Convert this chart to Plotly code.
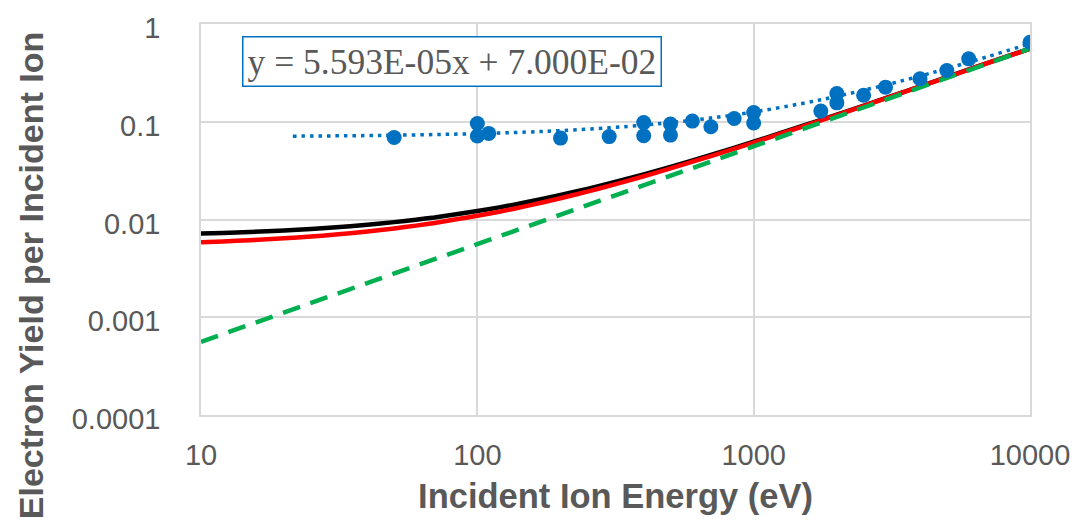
import plotly.graph_objects as go

# Measured electron yield (scatter points)
energy_meas = [50, 100, 100, 110, 200, 300, 400, 400, 500, 500, 600, 700, 850,
               1000, 1000, 1750, 2000, 2000, 2500, 3000, 4000, 5000, 6000, 10000]
yield_meas = [0.069, 0.096, 0.0715, 0.076, 0.068, 0.0705, 0.098, 0.072, 0.095, 0.073,
              0.1016, 0.089, 0.108, 0.124, 0.097, 0.1285, 0.194, 0.156, 0.187,
              0.226, 0.275, 0.335, 0.44, 0.65]

# Linear trendline coefficients shown in the equation box
trend_slope = 5.593e-05
trend_icpt = 7.000e-02
trend_x = [21.5, 30, 40, 50, 70, 100, 150, 200, 300, 400, 500, 700, 1000,
           1500, 2000, 3000, 4000, 5000, 7000, 10000]
trend_y = [trend_slope * e + trend_icpt for e in trend_x]

# Model curves
curve_x = [10, 12, 15, 20, 25, 30, 40, 50, 60, 70, 85, 100, 120, 150, 200, 250,
           300, 400, 500, 700, 1000, 1500, 2000, 3000, 5000, 7000, 10000]
black_y = [0.0072, 0.00727, 0.00744, 0.00772, 0.0080, 0.00828, 0.00884, 0.0094,
           0.00996, 0.0105, 0.0114, 0.0122, 0.0133, 0.0150, 0.0178, 0.0206,
           0.0234, 0.0290, 0.0346, 0.0457, 0.0625, 0.0905, 0.118, 0.174,
           0.286, 0.398, 0.56]
red_y = [0.00586, 0.00597, 0.00614, 0.00642, 0.0067, 0.00698, 0.00754, 0.0081,
         0.00866, 0.0092, 0.0101, 0.0109, 0.0120, 0.0137, 0.0165, 0.0193,
         0.0221, 0.0277, 0.0333, 0.0445, 0.0612, 0.0892, 0.117, 0.173,
         0.285, 0.397, 0.556]
green_x = [10, 10000]
green_y = [0.00056, 0.56]

# Axis ticks
x_ticks = [10, 100, 1000, 10000]
x_tick_text = ["10", "100", "1000", "10000"]
y_ticks = [0.0001, 0.001, 0.01, 0.1, 1]
y_tick_text = ["0.0001", "0.001", "0.01", "0.1", "1"]

grid = "#D9D9D9"
txt = "#595959"

fig = go.Figure()
fig.add_trace(go.Scatter(x=curve_x, y=black_y, mode="lines",
                         line=dict(color="black", width=4.5, shape="spline",
                                   smoothing=0.6),
                         hoverinfo="skip"))
fig.add_trace(go.Scatter(x=curve_x, y=red_y, mode="lines",
                         line=dict(color="#FF0000", width=4.5, shape="spline",
                                   smoothing=0.6),
                         hoverinfo="skip"))
fig.add_trace(go.Scatter(x=green_x, y=green_y, mode="lines",
                         line=dict(color="#00B050", width=4.5, dash="18px,11px"),
                         hoverinfo="skip"))
fig.add_trace(go.Scatter(x=trend_x, y=trend_y, mode="lines",
                         line=dict(color="#0070C0", width=3.5, dash="3.5px,5px",
                                   shape="spline"),
                         hoverinfo="skip"))
fig.add_trace(go.Scatter(x=energy_meas, y=yield_meas, mode="markers",
                         marker=dict(color="#0070C0", size=15)))

fig.update_layout(
    width=1082, height=524,
    margin=dict(l=201, r=50, t=22, b=109),
    paper_bgcolor="white", plot_bgcolor="white",
    showlegend=False,
    font=dict(family="Liberation Sans, Arial", color=txt),
)
fig.update_xaxes(
    type="log", range=[1, 4],
    tickvals=x_ticks, ticktext=x_tick_text,
    tickfont=dict(size=29, color=txt),
    showgrid=True, gridcolor=grid, gridwidth=1.5,
    showline=True, linecolor=grid, linewidth=1.5, mirror=True,
    ticks="", ticklabelstandoff=13,
    zeroline=False,
    title=dict(text="<b>Incident Ion Energy (eV)</b>",
               font=dict(size=34.5, color=txt), standoff=14),
)
fig.update_yaxes(
    type="log", range=[-4, 0],
    tickvals=y_ticks, ticktext=y_tick_text,
    tickfont=dict(size=29, color=txt),
    showgrid=True, gridcolor=grid, gridwidth=1.5,
    showline=True, linecolor=grid, linewidth=1.5, mirror=True,
    ticks="", ticklabelstandoff=33, ticklabelshift=4,
    zeroline=False,
)

# Vertical axis title, centred on the full figure height
fig.add_annotation(
    xref="paper", yref="paper", x=-0.2058, y=0.356,
    text="<b>Electron Yield per Incident Ion</b>", showarrow=False,
    textangle=-90, font=dict(size=34, color=txt),
    xanchor="center", yanchor="middle",
)

fig.add_annotation(
    xref="paper", yref="paper", x=0.3033, y=0.904,
    text="y = 5.593E-05x + 7.000E-02", showarrow=False,
    font=dict(family="Liberation Serif, Times New Roman", size=35.5, color=txt),
    bgcolor="white", bordercolor="#0070C0", borderwidth=1.5, borderpad=4,
    xanchor="center", yanchor="middle",
)

fig.write_html("out.html")
